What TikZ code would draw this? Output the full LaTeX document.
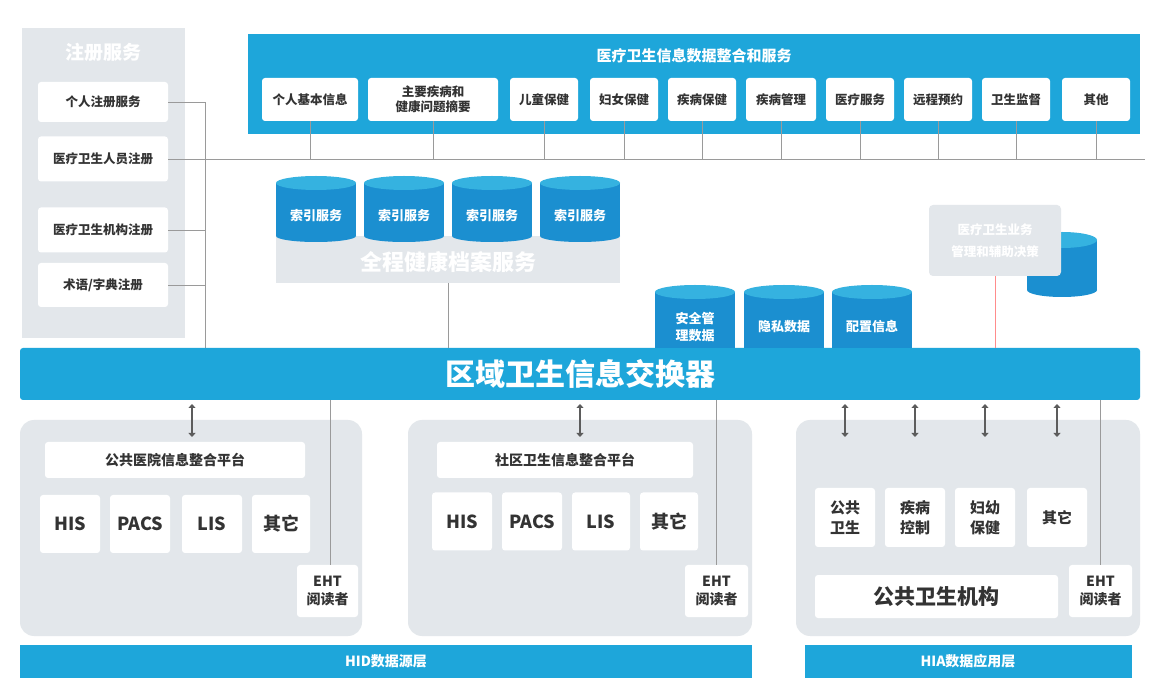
\documentclass[tikz,border=0pt]{standalone}
\usepackage{fontspec}
\setmainfont{Noto Sans CJK SC}
\usetikzlibrary{arrows.meta}
\definecolor{bl}{HTML}{1EA6DA}
\definecolor{db}{HTML}{1B8FD0}
\definecolor{lb}{HTML}{35B2E0}
\definecolor{gp}{HTML}{E3E7EB}
\definecolor{tx}{HTML}{333333}
\definecolor{ln}{HTML}{9A9A9A}
\begin{document}
\begin{tikzpicture}[x=1pt,y=-1pt,
 wb/.style={fill=white,rounded corners=3pt,draw=none,text=tx,font=\bfseries\fontsize{12.5}{15}\selectfont,align=center,inner sep=0pt},
 conn/.style={draw=ln,line width=0.8pt},
 arr/.style={draw=tx!80,line width=2.5pt,{Triangle[length=4pt,width=7pt]}-{Triangle[length=4pt,width=7pt]}},
 ctxt/.style={text=white,font=\bfseries\fontsize{13}{17}\selectfont,align=center}]
\useasboundingbox (0,0) rectangle (1171,700);
\fill[white] (0,0) rectangle (1171,700);
\newcommand\cyl[6]{% x1 x2 ytop ybot name text
 \fill[db] (#1,#3) rectangle (#2,#4);
 \fill[db] ({(#1+#2)/2},#4) ellipse ({(#2-#1)/2} and 6);
 \fill[lb] ({(#1+#2)/2},#3) ellipse ({(#2-#1)/2} and 7);
 \node[ctxt] (#5) at ({(#1+#2)/2},{(#3+#4)/2+6}) {#6};}
% left panel
\fill[gp] (22,28) rectangle (185,338);
\node[text=white,font=\bfseries\fontsize{19}{20}\selectfont] (reg) at (103,52) {注册服务};
\node[wb,minimum width=130,minimum height=40] (r1) at (103,102) {个人注册服务};
\node[wb,minimum width=130,minimum height=45] (r2) at (103,159) {医疗卫生人员注册};
\node[wb,minimum width=130,minimum height=45] (r3) at (103,230) {医疗卫生机构注册};
\node[wb,minimum width=130,minimum height=44] (r4) at (103,285) {术语/字典注册};
\coordinate (vt) at (205,102); \coordinate (vb) at (205,348);
\draw[conn] (r1.east) -- (vt) -- (vb);
\draw[conn] (r3.east) -- (205,230);
\draw[conn] (r4.east) -- (205,285);
\coordinate (hr) at (1145,159);
\draw[conn] (r2.east) -- (hr);
% top panel
\fill[bl] (248,34) rectangle (1140,134);
\node[text=white,font=\bfseries\fontsize{15}{18}\selectfont] (tt) at (694,56) {医疗卫生信息数据整合和服务};
\foreach \a/\b/\t/\n in {262/358/个人基本信息/t1,368/498/{主要疾病和\\健康问题摘要}/t2,510/578/儿童保健/t3,590/658/妇女保健/t4,668/736/疾病保健/t5,746/816/疾病管理/t6,826/894/医疗服务/t7,904/972/远程预约/t8,982/1050/卫生监督/t9,1062/1130/其他/t10}{
 \node[wb,minimum width={\b-\a},minimum height=43] (\n) at ({(\a+\b)/2},99.5) {\t};
 \draw[conn] (\n.south) -- ({(\a+\b)/2},159);}
% index cylinders
\fill[gp] (276,236) rectangle (620,283);
\node[text=white,font=\bfseries\fontsize{22}{24}\selectfont] (qc) at (448,262) {全程健康档案服务};
\foreach \a/\n in {276/i1,364/i2,452/i3,540/i4}{\cyl{\a}{\a+80}{183}{236}{\n}{索引服务}}
% bus
\fill[bl,rounded corners=3pt] (20,348) rectangle (1140,400);
\node[text=white,font=\bfseries\fontsize{30}{32}\selectfont] (bus) at (580,374) {区域卫生信息交换器};
\draw[conn] (448,283) -- (448,348);
% data cylinders
\begin{scope}
\clip (0,0) rectangle (1171,348);
\cyl{655}{735}{292}{350}{s1}{安全管\\理数据}
\cyl{744}{824}{292}{350}{s2}{隐私数据}
\cyl{832}{912}{292}{350}{s3}{配置信息}
\end{scope}
% decision
\fill[db] (1027,240) rectangle (1097,290);
\fill[db] (1062,290) ellipse (35 and 7);
\fill[lb] (1062,240) ellipse (35 and 8);
\node[fill=gp,rounded corners=4pt,minimum width=132,minimum height=71,text=white,font=\bfseries\fontsize{12.5}{22}\selectfont,align=center,inner sep=0pt] (dec) at (995,240.5) {医疗卫生业务\\管理和辅助决策};
\draw[draw=red!45,line width=1pt] (dec.south) -- (995,348);
% bottom panels
\foreach \a/\b/\n in {20/362/p1,408/752/p2,796/1140/p3}{\fill[gp,rounded corners=14pt] (\a,420) rectangle (\b,636);}
\tikzset{sys/.style={wb,font=\bfseries\fontsize{18}{20}\selectfont,minimum height=58}}
\node[wb,minimum width=260,minimum height=36,font=\bfseries\fontsize{14}{16}\selectfont] (l1) at (175,460) {公共医院信息整合平台};
\node[sys,minimum width=60] (h1) at (70,524) {HIS};
\node[sys,minimum width=60] (h2) at (140,524) {PACS};
\node[sys,minimum width=60] (h3) at (212,524) {LIS};
\node[sys,minimum width=58] (h4) at (281,524) {其它};
\node[wb,minimum width=61,minimum height=52,font=\bfseries\fontsize{14}{18}\selectfont] (e1) at (327.5,591) {EHT\\阅读者};
\draw[conn] (330,400) -- (330,565);
\draw[arr] (192,404) -- (192,437);
\node[wb,minimum width=256,minimum height=36,font=\bfseries\fontsize{14}{16}\selectfont] (l2) at (565,460) {社区卫生信息整合平台};
\node[sys,minimum width=60] (c1) at (462,521.5) {HIS};
\node[sys,minimum width=60] (c2) at (532,521.5) {PACS};
\node[sys,minimum width=58] (c3) at (601,521.5) {LIS};
\node[sys,minimum width=58] (c4) at (669,521.5) {其它};
\node[wb,minimum width=63,minimum height=52,font=\bfseries\fontsize{14}{18}\selectfont] (e2) at (716.5,591) {EHT\\阅读者};
\draw[conn] (716,400) -- (716,565);
\draw[arr] (580,404) -- (580,437);
\tikzset{ph/.style={wb,font=\bfseries\fontsize{15}{20}\selectfont,minimum width=60,minimum height=59}}
\node[ph] (g1) at (845,517.5) {公共\\卫生};
\node[ph] (g2) at (915,517.5) {疾病\\控制};
\node[ph] (g3) at (985,517.5) {妇幼\\保健};
\node[ph] (g4) at (1057,517.5) {其它};
\node[wb,minimum width=243,minimum height=43,font=\bfseries\fontsize{21}{22}\selectfont] (gw) at (936.5,596.5) {公共卫生机构};
\node[wb,minimum width=63,minimum height=52,font=\bfseries\fontsize{14}{18}\selectfont] (e3) at (1100.5,591) {EHT\\阅读者};
\draw[conn] (1100,400) -- (1100,565);
\foreach \x in {845,915,985,1057}{\draw[arr] (\x,404) -- (\x,437);}
\fill[bl] (20,645) rectangle (752,678);
\node[text=white,font=\bfseries\fontsize{14}{16}\selectfont] (hid) at (386,661.5) {HID数据源层};
\fill[bl] (805,645) rectangle (1132,678);
\node[text=white,font=\bfseries\fontsize{14}{16}\selectfont] (hia) at (968,661.5) {HIA数据应用层};
\end{tikzpicture}
\end{document}
